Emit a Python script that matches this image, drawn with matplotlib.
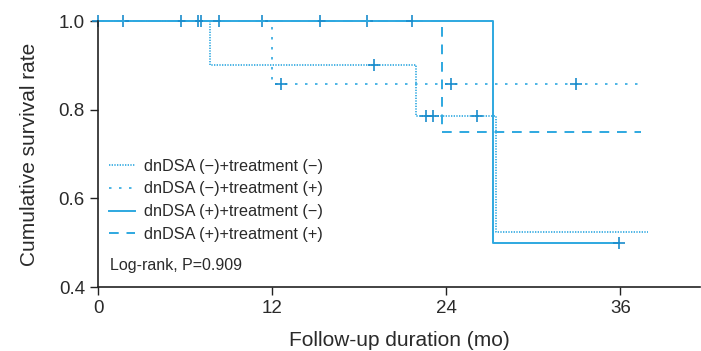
import numpy as np
import matplotlib.pyplot as plt

plt.rcParams['font.family'] = ['Liberation Sans', 'DejaVu Sans']

# Kaplan-Meier step data (months, survival)
t_nn = [0, 7.7, 21.9, 27.4, 37.9]
s_nn = [1.0, 0.9, 0.786, 0.524, 0.524]
cens_nn = [19.0, 22.6, 23.1, 26.1]

t_np = [0, 12.0, 37.7]
s_np = [1.0, 0.857, 0.857]
cens_np = [12.6, 24.3, 32.9]

t_pn = [0, 27.2, 35.9]
s_pn = [1.0, 0.5, 0.5]
cens_pn = [0.0, 1.7, 5.7, 6.9, 7.1, 8.3, 11.3, 15.3, 18.5, 21.6, 35.9]

t_pp = [0, 23.7, 37.4]
s_pp = [1.0, 0.75, 0.75]
cens_pp = []

labels = ['dnDSA (\u2212)+treatment (\u2212)', 'dnDSA (\u2212)+treatment (+)',
          'dnDSA (+)+treatment (\u2212)', 'dnDSA (+)+treatment (+)']
xticks = [0, 12, 24, 36]
yticks = [0.4, 0.6, 0.8, 1.0]

line_col = '#2ea8e0'
mark_col = '#1a8ccc'
text_col = '#2a2a2a'


def step_value(t, s, x):
    idx = np.searchsorted(t, x, side='right') - 1
    return np.array(s)[idx]


fig = plt.figure(figsize=(7.01, 3.51), dpi=100)
ax = fig.add_axes([0.14, 0.182, 0.859, 0.758])

series = [
    (t_nn, s_nn, cens_nn, dict(linestyle=(0, (0.8, 0.8)), linewidth=1.2)),
    (t_np, s_np, cens_np, dict(linestyle=(0, (1.5, 4.5)), linewidth=1.2)),
    (t_pn, s_pn, cens_pn, dict(linestyle='-', linewidth=1.4)),
    (t_pp, s_pp, cens_pp, dict(linestyle=(0, (5, 4)), linewidth=1.4)),
]

for (t, s, cens, style), lab in zip(series, labels):
    ax.step(t, s, where='post', color=line_col, label=lab, clip_on=False, **style)
    if cens:
        ax.plot(cens, step_value(t, s, cens), linestyle='none', marker='+',
                markersize=8, markeredgewidth=1.2, color=mark_col, clip_on=False)

ax.set_xlim(0, 41.5)
ax.set_ylim(0.4, 1.0)
ax.set_xticks(xticks)
ax.set_yticks(yticks)
ax.set_yticklabels(['%.1f' % v for v in yticks])
ax.tick_params(labelsize=13.5, length=6, width=1, direction='out',
               color='#222222', labelcolor=text_col)
for side in ['top', 'right']:
    ax.spines[side].set_visible(False)
for side in ['left', 'bottom']:
    ax.spines[side].set_color('#222222')
    ax.spines[side].set_linewidth(1.2)

ax.set_xlabel('Follow-up duration (mo)', fontsize=15, color=text_col, labelpad=10)
ax.set_ylabel('Cumulative survival rate', fontsize=15, color=text_col, labelpad=14)

ax.legend(loc='upper left', bbox_to_anchor=(0.155, 0.548), bbox_transform=fig.transFigure,
          frameon=False, fontsize=11.7, handlelength=1.6, handletextpad=0.6,
          labelspacing=0.48, borderpad=0, borderaxespad=0, labelcolor=text_col)
ax.text(0.157, 0.245, 'Log-rank, P=0.909', transform=fig.transFigure,
        fontsize=11.5, color=text_col, va='center')

fig.savefig('out.png', dpi=100)
